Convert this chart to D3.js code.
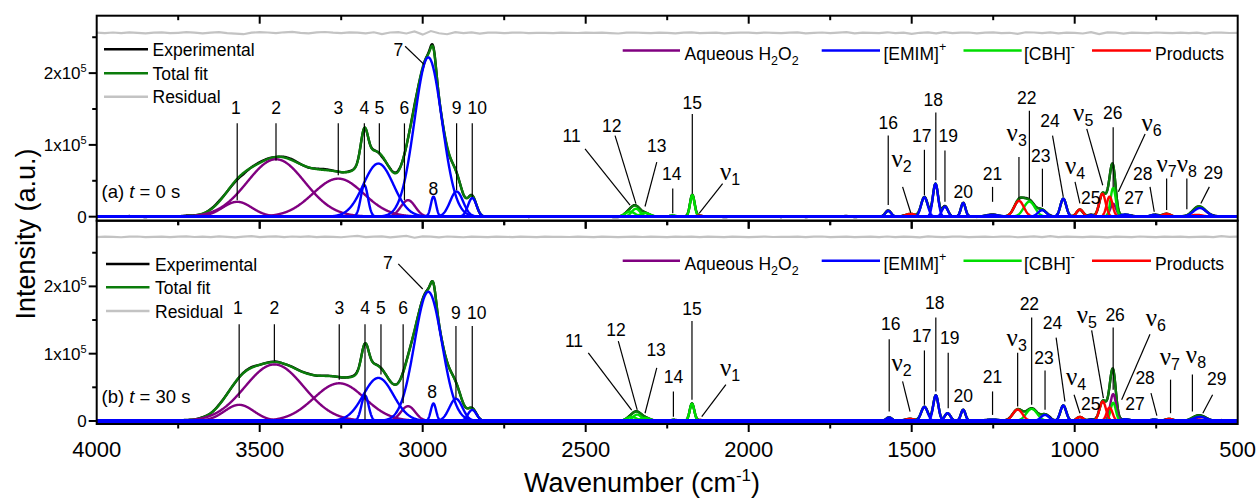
<!DOCTYPE html>
<html>
<head>
<meta charset="utf-8">
<script src="https://cdn.jsdelivr.net/npm/d3@7"></script>
<style>
  body { margin: 0; background: #fff; }
  svg { display: block; }
  text { font-family: "Liberation Sans", Arial, sans-serif; fill: #000; }
</style>
</head>
<body>
<svg id="chart" width="1259" height="500"></svg>
<script>
// ---------------------------------------------------------------
// Fitted Gaussian components: [centre (cm-1), height (a.u.), sigma (cm-1)]
// ---------------------------------------------------------------
// (a) t = 0 s
const h2o2A = [[3569, 20700, 45], [3450, 80000, 88], [3259, 53000, 78], [3045, 23000, 22], [882, 18000, 9]];
const emimA = [[3179, 44000, 11], [3136, 74000, 46], [2983, 222000, 42], [2967, 28000, 8], [2896, 35000, 20],
               [2848, 26000, 13], [1572, 8000, 9], [1461, 27000, 10], [1427, 46000, 8], [1398, 14000, 9],
               [1342, 19000, 7], [1252, 2500, 20], [1100, 9000, 13], [1035, 25000, 9], [950, 2000, 10],
               [845, 3000, 15], [756, 2500, 12], [616, 12000, 20]];
const cbhA  = [[2364, 7000, 15], [2346, 11000, 13], [2318, 5000, 15], [2233, 1500, 10], [2173, 30000, 7],
               [1139, 21000, 17], [882, 40000, 8]];
const prodA = [[2152, 1500, 10], [1503, 4000, 15], [1171, 22000, 15], [984, 10000, 10], [915, 32000, 10],
               [893, 28000, 9], [718, 4000, 12], [625, 2500, 18]];

// (b) t = 30 s
const h2o2B = [[3563, 24000, 45], [3455, 84000, 90], [3256, 56000, 78], [3045, 22000, 22], [882, 40000, 9]];
const emimB = [[3177, 38000, 11], [3136, 64000, 46], [2983, 192000, 42], [2967, 26000, 8], [2898, 33000, 20],
               [2848, 16500, 13], [1569, 5000, 9], [1461, 21000, 10], [1426, 38000, 8], [1390, 11500, 9],
               [1342, 16500, 7], [1252, 2000, 20], [1091, 9000, 13], [1035, 23000, 9], [950, 2000, 10],
               [845, 2500, 15], [756, 2000, 12], [616, 6000, 20]];
const cbhB  = [[2359, 6000, 15], [2342, 9500, 13], [2318, 4500, 15], [2231, 1500, 10], [2174, 25500, 7],
               [1132, 18000, 17], [882, 27000, 8]];
const prodB = [[2150, 1500, 10], [1505, 3000, 15], [1175, 17000, 15], [984, 6000, 10], [914, 29000, 10],
               [893, 20000, 9], [710, 3000, 12], [625, 2500, 18]];

// Residual (experimental - fit), x10^3 a.u., every 25 cm-1 from 4000 down to 500
const residualStep = 25;
const residualA = [
  0.4,-0.3,0.6,-0.2,0.9,0.1,-0.5,0.3,0.8,-0.4,0.2,1.0,0.3,
  -0.6,0.5,1.2,-0.2,-1.1,-1.8,0.4,1.1,0.6,-0.3,0.9,1.4,
  0.2,-0.5,0.7,1.3,0.4,-0.2,0.8,0.5,-0.7,0.9,-1.6,0.6,
  1.2,-0.8,2.0,-2.4,2.6,-0.5,-1.8,1.0,-0.4,0.7,-0.9,0.3,
  0.5,-0.2,0.3,0.6,-0.4,0.2,0.1,-0.3,0.5,0.2,-0.1,0.4,
  0.0,0.3,-0.2,-0.8,0.4,0.6,0.1,-0.4,0.3,0.2,-0.5,0.4,
  0.7,-0.3,0.2,0.5,-0.6,0.1,0.4,0.3,-0.2,0.6,0.0,-0.4,
  0.3,0.8,-0.5,0.2,0.6,-0.3,0.4,1.0,-0.6,0.3,0.2,-0.2,
  0.9,-0.4,0.5,-1.3,0.2,0.8,-0.7,1.1,-0.2,0.4,0.6,-0.5,
  0.3,0.7,-0.4,0.2,-1.4,0.9,0.6,-0.3,0.8,-0.6,0.4,0.2,
  -0.8,1.0,-1.5,0.7,0.3,-0.9,0.5,0.2,-0.4,0.6,0.1,-0.3,
  0.5,-0.2,0.4,-0.9,0.6,0.3,-0.1,0.2];
const residualB = [
  -0.3,0.4,0.2,-0.5,0.3,0.6,-0.2,0.1,0.5,-0.4,0.3,0.7,-0.1,
  0.4,-0.3,0.8,0.2,-0.6,0.5,1.1,-0.2,0.3,0.9,-0.4,0.6,
  0.2,0.7,-0.3,0.5,0.1,-0.5,0.6,1.4,-0.2,0.4,0.8,-0.6,
  0.5,1.6,-1.2,0.9,0.3,-0.8,0.6,0.2,-0.5,0.4,0.1,-0.2,
  0.3,0.1,-0.2,0.4,0.2,-0.3,0.5,0.0,0.2,-0.1,0.3,0.1,
  -0.2,0.4,0.1,-0.3,0.2,0.5,-0.1,0.3,0.0,-0.2,0.4,0.2,
  0.5,-0.4,0.3,0.1,-0.2,0.4,0.2,-0.3,0.1,0.5,-0.1,0.2,
  0.0,0.4,-0.2,0.3,0.6,-0.4,0.2,0.5,-0.3,0.1,0.4,-0.2,
  0.6,-0.3,0.4,0.2,-0.6,0.7,0.1,-0.4,0.3,0.5,-0.2,0.1,
  0.4,-0.1,0.3,0.6,-0.5,0.2,0.8,-0.3,1.2,-0.4,0.3,0.1,
  -0.4,0.5,0.2,-0.7,0.4,0.1,-0.3,0.6,0.2,-0.2,0.3,0.0,
  0.4,-0.3,0.2,0.5,-0.2,1.3,0.1,0.3];
const residualOffsetA = 256000;
const residualOffsetB = 273500;

// Peak assignments: [label, text wavenumber, text height, leader from (w, I) to (w, I)]
const annotA = [
  ["1",3573,143000,3569,130000,3569,23000], ["2",3450,143000,3450,130000,3450,78400],
  ["3",3259,143000,3259,130000,3259,57600], ["4",3179,143000,3179,130000,3179,41500],
  ["5",3133,143000,3133,130000,3133,88000], ["6",3056,143000,3056,130000,3056,23000],
  ["7",3075,223600,3054,237500,2996,212100], ["8",2967,30000],
  ["9",2896,143000,2896,130000,2896,36900], ["10",2833,143000,2848,130000,2848,27400],
  ["11",2543,103700,2502,94600,2364,16200], ["12",2420,117600,2410,113000,2346,18100],
  ["13",2282,89900,2282,76100,2318,14200], ["14",2236,50800,2233,39300,2233,4700],
  ["15",2173,149900,2173,143000,2173,32400], ["ν1",2057,50800,2080,46200,2152,4700],
  ["16",1572,122300,1572,113000,1572,16200], ["ν2",1531,69150,1528,41500,1503,5500],
  ["17",1469,103700,1461,93200,1461,30000], ["18",1434,154500,1426,145200,1426,50800],
  ["19",1388,103700,1398,92200,1398,20700], ["20",1342,25400],
  ["21",1252,50800,1252,41500,1252,20700], ["ν3",1178,106100,1171,83000,1171,25400],
  ["22",1147,156800,1139,147600,1139,25400], ["23",1104,76100,1099,66900,1099,13800],
  ["24",1076,124500,1068,113000,1035,27700], ["ν4",999,60000,999,48400,984,18500],
  ["25",951,17600], ["ν5",974,133700,963,122300,914,43800],
  ["26",883,136100,882,124500,882,41500], ["ν6",764,119900,784,115300,866,34600],
  ["27",818,17600], ["28",791,50800,769,41500,756,6900],
  ["ν7",718,62200,718,53100,718,9300], ["ν8",656,62200,656,53100,656,10200],
  ["29",575,53100,587,41500,613,18500]];
const annotB = [
  ["1",3567,158700,3563,143700,3563,34000], ["2",3455,158700,3455,143700,3455,88800],
  ["3",3256,158700,3256,143700,3256,61400], ["4",3177,158700,3177,143700,3177,2000],
  ["5",3128,158700,3128,143700,3128,68900], ["6",3060,158700,3060,143700,3060,26500],
  ["7",3107,226000,3075,233500,3000,196100], ["8",2971,34000],
  ["9",2898,151200,2898,141200,2898,34000], ["10",2834,151200,2848,141200,2848,19000],
  ["11",2536,109700,2492,101300,2359,16000], ["12",2407,126200,2400,118700,2342,16400],
  ["13",2284,96300,2282,78900,2318,11500], ["14",2231,56400,2231,43900,2231,6400],
  ["15",2174,157600,2174,148600,2174,31400], ["ν1",2057,66300,2070,53900,2144,6400],
  ["16",1564,134700,1569,121300,1569,13900], ["ν2",1531,73800,1528,58800,1505,13900],
  ["17",1469,117800,1461,104800,1461,24000], ["18",1429,166200,1426,153700,1426,43900],
  ["19",1383,114800,1388,101300,1388,19000], ["20",1342,28900],
  ["21",1252,56400,1252,43900,1252,9000], ["ν3",1178,111200,1175,101300,1175,21400],
  ["22",1139,164700,1132,153700,1132,24000], ["23",1094,84900,1091,74900,1091,16500],
  ["24",1068,136200,1057,123800,1030,28900], ["ν4",996,53900,1002,38900,984,11500],
  ["25",951,16500], ["ν5",963,146300,948,134700,912,34000],
  ["26",876,148700,882,138800,882,46400], ["ν6",751,141200,769,128700,856,31400],
  ["27",815,16500], ["28",784,54900,766,41500,748,7900],
  ["ν7",708,83800,706,61400,706,11500], ["ν8",628,86400,639,68900,639,13900],
  ["29",564,53900,577,38900,607,11500]];

// Axis ticks
const xMajorTicks = [4000, 3500, 3000, 2500, 2000, 1500, 1000, 500];
const xMinorTicks = [3750, 3250, 2750, 2250, 1750, 1250, 750];
const yMajorTicks = [0, 100000, 200000];
const yMinorTicks = [50000, 150000, 250000];
const yTickLabels = [["0", ""], ["1x10", "5"], ["2x10", "5"]];

// ---------------------------------------------------------------
const colors = { exp: "#000000", fit: "#0b7c0b", res: "#c3c3c3",
                 h2o2: "#800080", emim: "#0000ff", cbh: "#00dd00", prod: "#ff0000" };

const svg = d3.select("#chart");
const left = 96.7, right = 1237.7;
const x = d3.scaleLinear().domain([4000, 500]).range([left, right]);

const panels = [
  { key: "a", top: 15.7, bottom: 220.7, yDomain: [-5600, 280000],
    comps: { h2o2: h2o2A, cbh: cbhA, prod: prodA, emim: emimA },
    residual: residualA, resOffset: residualOffsetA, annot: annotA,
    tag: ["(a) ", "t", " = 0 s"], tagY: 198,
    legL: [49.3, 73.3, 96.7], legLx: [104, 148, 152.5], legLdy: 6.5,
    legRy: 50.5, legRdy: 9.5 },
  { key: "b", top: 220.7, bottom: 424, yDomain: [-4500, 297600],
    comps: { h2o2: h2o2B, cbh: cbhB, prod: prodB, emim: emimB },
    residual: residualB, resOffset: residualOffsetB, annot: annotB,
    tag: ["(b) ", "t", " = 30 s"], tagY: 403.3,
    legL: [264, 287.3, 311], legLx: [106, 149.5, 155], legLdy: 7,
    legRy: 260.7, legRdy: 9.3 }
];

const gauss = (w, p) => p[1] * Math.exp(-((w - p[0]) ** 2) / (2 * p[2] * p[2]));
const grid = d3.range(4000, 499.5, -1);
const resGrid = d3.range(4000, 499.5, -residualStep);

const defs = svg.append("defs");

panels.forEach((P, pi) => {
  const y = d3.scaleLinear().domain(P.yDomain).range([P.bottom, P.top]);
  const clipId = "clip-" + P.key;
  defs.append("clipPath").attr("id", clipId)
    .append("rect").attr("x", left).attr("y", P.top)
    .attr("width", right - left).attr("height", P.bottom - P.top);

  const g = svg.append("g");
  const plot = g.append("g").attr("clip-path", `url(#${clipId})`);
  const line = d3.line().x(d => x(d[0])).y(d => y(d[1]));

  const allPeaks = [].concat(P.comps.h2o2, P.comps.emim, P.comps.cbh, P.comps.prod);
  const fitAt = w => d3.sum(allPeaks, p => gauss(w, p));
  const resVals = P.residual.map(r => r * 1000);
  const resAt = d3.scaleLinear().domain(resGrid).range(resVals);

  // residual trace, shifted up
  plot.append("path")
    .attr("d", line(resGrid.map((w, i) => [w, P.resOffset + resVals[i]])))
    .attr("fill", "none").attr("stroke", colors.res).attr("stroke-width", 2.2);

  // experimental = fit + residual
  plot.append("path")
    .attr("d", line(grid.map(w => [w, fitAt(w) + resAt(w)])))
    .attr("fill", "none").attr("stroke", colors.exp).attr("stroke-width", 2.4);

  // total fit
  plot.append("path")
    .attr("d", line(grid.map(w => [w, fitAt(w)])))
    .attr("fill", "none").attr("stroke", colors.fit).attr("stroke-width", 2.4);

  // individual components
  ["h2o2", "cbh", "prod", "emim"].forEach(k => {
    P.comps[k].forEach(p => {
      plot.append("path")
        .attr("d", line(grid.map(w => [w, gauss(w, p)])))
        .attr("fill", "none").attr("stroke", colors[k]).attr("stroke-width", 2.4)
        .attr("stroke-linejoin", "round");
    });
  });

  // peak labels and leaders
  P.annot.forEach(a => {
    const [lab, tw, tv] = a;
    if (a.length > 3) {
      g.append("line")
        .attr("x1", x(a[3])).attr("y1", y(a[4]))
        .attr("x2", x(a[5])).attr("y2", y(a[6]))
        .attr("stroke", "#000").attr("stroke-width", 1.2);
    }
    const t = g.append("text").attr("x", x(tw)).attr("y", y(tv))
      .attr("text-anchor", "middle").style("font-size", "17.5px");
    if (lab.startsWith("ν")) {
      t.append("tspan").text("ν")
        .style("font-family", '"Liberation Serif", "DejaVu Serif", serif').style("font-size", "25px");
      t.append("tspan").text(lab.slice(1)).attr("dy", 5).style("font-size", "16px");
    } else {
      t.text(lab);
    }
  });

  // frame
  g.append("rect").attr("x", left).attr("y", P.top)
    .attr("width", right - left).attr("height", P.bottom - P.top)
    .attr("fill", "none").attr("stroke", "#000").attr("stroke-width", 2);

  // x ticks: inward at the top edge, outward at the bottom edge
  const tickLines = (yPos, dir, values, len) => {
    g.selectAll(null).data(values).enter().append("line")
      .attr("x1", d => x(d)).attr("x2", d => x(d))
      .attr("y1", yPos).attr("y2", yPos + dir * len)
      .attr("stroke", "#000").attr("stroke-width", 2);
  };
  tickLines(P.top, 1, xMajorTicks.slice(1, -1), 8);
  tickLines(P.top, 1, xMinorTicks, 4.5);
  tickLines(P.bottom, 1, xMajorTicks.slice(1, -1), 8);
  tickLines(P.bottom, 1, xMinorTicks, 4.5);

  // y ticks, outward
  g.selectAll(null).data(yMajorTicks).enter().append("line")
    .attr("x1", left - 8).attr("x2", left).attr("y1", d => y(d)).attr("y2", d => y(d))
    .attr("stroke", "#000").attr("stroke-width", 2);
  g.selectAll(null).data(yMinorTicks).enter().append("line")
    .attr("x1", left - 4.5).attr("x2", left).attr("y1", d => y(d)).attr("y2", d => y(d))
    .attr("stroke", "#000").attr("stroke-width", 2);
  yMajorTicks.forEach((v, i) => {
    const t = g.append("text").attr("x", left - 10).attr("y", y(v) + 6)
      .attr("text-anchor", "end").style("font-size", "17px");
    t.append("tspan").text(yTickLabels[i][0]);
    if (yTickLabels[i][1]) t.append("tspan").text(yTickLabels[i][1]).attr("dy", -7).style("font-size", "11px");
  });

  // panel tag
  const tag = g.append("text").attr("x", 101.5).attr("y", P.tagY).style("font-size", "18.5px");
  tag.append("tspan").text(P.tag[0]);
  tag.append("tspan").text(P.tag[1]).style("font-style", "italic");
  tag.append("tspan").text(P.tag[2]);

  // left legend
  const legL = [["Experimental", colors.exp], ["Total fit", colors.fit], ["Residual", colors.res]];
  legL.forEach((d, i) => {
    g.append("line").attr("x1", P.legLx[0]).attr("x2", P.legLx[1])
      .attr("y1", P.legL[i]).attr("y2", P.legL[i])
      .attr("stroke", d[1]).attr("stroke-width", 2.6);
    g.append("text").attr("x", P.legLx[2]).attr("y", P.legL[i] + P.legLdy)
      .style("font-size", "17.5px").text(d[0]);
  });

  // right legend
  const legR = [
    { x: [622.7, 680, 684.5], color: colors.h2o2, parts: [["Aqueous H"], ["2", "sub"], ["O"], ["2", "sub"]] },
    { x: [821.7, 880, 883.5], color: colors.emim, parts: [["[EMIM]"], ["+", "sup"]] },
    { x: [963.5, 1021.7, 1024], color: colors.cbh, parts: [["[CBH]"], ["-", "sup"]] },
    { x: [1092, 1151, 1155], color: colors.prod, parts: [["Products"]] }
  ];
  legR.forEach(d => {
    g.append("line").attr("x1", d.x[0]).attr("x2", d.x[1])
      .attr("y1", P.legRy).attr("y2", P.legRy)
      .attr("stroke", d.color).attr("stroke-width", 2.6);
    const t = g.append("text").attr("x", d.x[2]).attr("y", P.legRy + P.legRdy).style("font-size", "17.5px");
    let shift = 0;
    d.parts.forEach(pt => {
      const want = pt[1] === "sub" ? 5 : pt[1] === "sup" ? -9 : 0;
      const s = t.append("tspan").text(pt[0]).attr("dy", want - shift);
      if (pt[1]) s.style("font-size", "12.5px");
      shift = want;
    });
  });

  // x tick labels on the lowest panel only
  if (pi === panels.length - 1) {
    g.selectAll(null).data(xMajorTicks).enter().append("text")
      .attr("x", d => x(d)).attr("y", P.bottom + 33)
      .attr("text-anchor", "middle").style("font-size", "22px").text(d => d);
  }
});

// axis titles
const xt = svg.append("text").attr("x", 642).attr("y", 492)
  .attr("text-anchor", "middle").style("font-size", "27px");
xt.append("tspan").text("Wavenumber (cm");
xt.append("tspan").text("-1").attr("dy", -11).style("font-size", "17px");
xt.append("tspan").text(")").attr("dy", 11);

svg.append("text").attr("transform", "translate(35,234) rotate(-90)")
  .attr("text-anchor", "middle").style("font-size", "27px").text("Intensity (a.u.)");
</script>
</body>
</html>
